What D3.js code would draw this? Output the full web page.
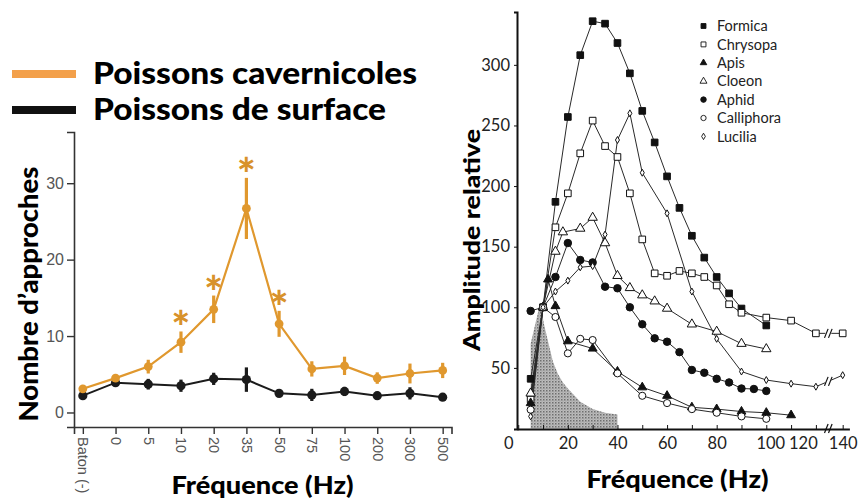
<!DOCTYPE html>
<html><head><meta charset="utf-8">
<script src="https://cdn.jsdelivr.net/npm/d3@7"></script>
<style>body{margin:0;background:#fff}svg{display:block}</style>
</head><body>
<svg id="c" width="863" height="501"></svg>
<script>
// ---------- Left chart data ----------
const leftCats = ["Baton (-)","0","5","10","20","35","50","75","100","200","300","500"];
const caveMean = [3.1,4.5,6.0,9.2,13.5,26.7,11.6,5.7,6.1,4.5,5.1,5.5];
const caveErr  = [0.5,0.4,0.9,1.4,1.8,4.0,1.7,1.0,1.2,0.75,1.3,1.0];
const surfMean = [2.2,3.9,3.7,3.5,4.4,4.3,2.5,2.3,2.75,2.2,2.5,2.0];
const surfErr  = [0.4,0.4,0.7,0.8,0.8,1.6,0.3,0.8,0.6,0.5,0.8,0.5];
const signifCats = ["10","20","35","50"];
const leftYTicks = [0,10,20,30];
const legendLeft = ["Poissons cavernicoles","Poissons de surface"];

// ---------- Right chart data ----------
const formicaF = [5,10,15,20,25,30,35,40,45,50,55,60,65,70,75,80,85,90,100];
const formicaA = [41,100,187,257,308,336,334,318,293,262,236,208,182,159,141,125,111.5,99,85];
const chrysopaF = [5,10,15,20,25,30,35,40,45,50,55,60,65,70,75,80,85,90,100,110,120,140];
const chrysopaA = [24,100,166,194,227,254,233,224,194,156,128,126,130,128,125,118,102.5,95.5,91.5,89,78.5,78.5];
const apisF = [5,10,12,15,20,30,40,50,60,70,80,90,100,110];
const apisA = [21,100,123,101,72,66,47,34,27,17.5,16,14,13,11];
const cloeonF = [5,10,15,18,25,30,35,40,45,50,55,60,70,80,90,100];
const cloeonA = [29,100,146,162,165,174,153,126,116,110,105,99,86,80,70,65.6];
const aphidF = [5,10,15,20,25,30,35,40,45,50,55,60,65,70,75,80,85,90,95,100];
const aphidA = [97,100,125,153,139,137,117,115.7,100,86,74.4,71.6,63,48.3,46,41,38,33,32.6,31];
const callF = [5,10,15,20,25,30,40,50,60,70,80,90,100];
const callA = [15.5,100,92,62,74,73,45.5,27,21,16,13,10,8];
const luciliaF = [5,10,15,20,25,30,35,40,45,50,60,70,80,90,100,110,120,140];
const luciliaA = [10,100,113,122,133,134,160,238,260,211,177.5,113,74,47,40,37,34.5,44];
const grayF = [5,5,8.8,10.5,12,14,16,18,20,25,30,35,40,40];
const grayA = [0,70,103,85,72,55,45,38,33,22,16,13,11.5,0];
const rightXTicks = [0,20,40,60,80,100,120,140];
const rightXMinor = [10,30,50,70,90,110];
const rightYTicks = [50,100,150,200,250,300];
const seriesNames = ["Formica","Chrysopa","Apis","Cloeon","Aphid","Calliphora","Lucilia"];

const svg = d3.select("#c");
svg.append("rect").attr("width",863).attr("height",501).attr("fill","#fff");

// ================= LEFT CHART =================
const ORANGE = "#E0982E", ORANGE_LEG = "#F3A04A", BLACK = "#1b1b1b";
const xL = d3.scalePoint().domain(leftCats).range([74, 451.5]).padding(0.27);
const yL = d3.scaleLinear().domain([-1.9, 36.7]).range([427, 132]);

const gL = svg.append("g");
const yAx = gL.append("g").attr("transform","translate(74,0)")
  .call(d3.axisLeft(yL).tickValues(leftYTicks).tickSizeOuter(0).tickSize(7).tickPadding(3));
yAx.select(".domain").attr("stroke","#333").attr("stroke-width",1.6);
yAx.selectAll(".tick line").attr("stroke","#333").attr("stroke-width",1.4);
yAx.selectAll(".tick text").attr("font-family","Liberation Sans, Arial, sans-serif")
  .attr("font-size",16).attr("fill","#555");
const xAx = gL.append("g").attr("transform","translate(0,427)")
  .call(d3.axisBottom(xL).tickSizeOuter(0).tickSize(7));
xAx.select(".domain").attr("stroke","#333").attr("stroke-width",1.6);
xAx.selectAll(".tick line").attr("stroke","#333").attr("stroke-width",1.4);
xAx.selectAll(".tick text")
  .attr("font-family","Liberation Sans, Arial, sans-serif").attr("font-size",14.5).attr("fill","#555")
  .attr("transform","rotate(90)").attr("text-anchor","start")
  .attr("x",10).attr("y",0).attr("dy","0.35em");

function drawSeries(mean, err, color, lw, r) {
  const pts = leftCats.map((c,i)=>({c, m:mean[i], e:err[i]}));
  gL.append("path").datum(pts)
    .attr("fill","none").attr("stroke",color).attr("stroke-width",lw)
    .attr("d", d3.line().x(d=>xL(d.c)).y(d=>yL(d.m)));
  gL.append("g").selectAll("line").data(pts).join("line")
    .attr("x1",d=>xL(d.c)).attr("x2",d=>xL(d.c))
    .attr("y1",d=>yL(d.m-d.e)).attr("y2",d=>yL(d.m+d.e))
    .attr("stroke",color).attr("stroke-width",3.2);
  gL.append("g").selectAll("circle").data(pts).join("circle")
    .attr("cx",d=>xL(d.c)).attr("cy",d=>yL(d.m)).attr("r",r).attr("fill",color);
}
drawSeries(surfMean, surfErr, BLACK, 2, 4.6);
drawSeries(caveMean, caveErr, ORANGE, 2.2, 4.4);

// significance stars
gL.append("g").selectAll("text").data(signifCats).join("text")
  .attr("x", c=>xL(c))
  .attr("y", c=>{const i=leftCats.indexOf(c); return yL(caveMean[i]+caveErr[i]) + 12;})
  .attr("text-anchor","middle")
  .attr("font-family","Lato, sans-serif").attr("font-weight",900).attr("font-size",44)
  .attr("fill","#D8922B").text("*");

// legend left
const legColors = [ORANGE_LEG, "#111"];
const legY = [74, 110];
legendLeft.forEach((t,i)=>{
  svg.append("line").attr("x1",12).attr("x2",76).attr("y1",legY[i]).attr("y2",legY[i])
    .attr("stroke",legColors[i]).attr("stroke-width",8);
  svg.append("text").attr("x",93).attr("y",legY[i]+9.7)
    .attr("font-family","Lato, sans-serif").attr("font-weight",900).attr("font-size",30)
    .attr("fill","#000").attr("textLength", i===0?324:293).attr("lengthAdjust","spacingAndGlyphs")
    .text(t);
});
svg.append("text").attr("transform","translate(38,294) rotate(-90)")
  .attr("text-anchor","middle").attr("font-family","Lato, sans-serif").attr("font-weight",900)
  .attr("font-size",27).attr("textLength",255).attr("lengthAdjust","spacingAndGlyphs")
  .text("Nombre d\u2019approches");
svg.append("text").attr("x",262.5).attr("y",494).attr("text-anchor","middle")
  .attr("font-family","Lato, sans-serif").attr("font-weight",900).attr("font-size",25)
  .attr("textLength",182).attr("lengthAdjust","spacingAndGlyphs").text("Fréquence (Hz)");

// ================= RIGHT CHART =================
const xR = d3.scaleLinear().domain([-0.5,125,147]).range([517,828.3,849.4]);
const yR = d3.scaleLinear().domain([-0.4,343.6]).range([429,12]);
const gR = svg.append("g");

const defs = svg.append("defs");
const pat = defs.append("pattern").attr("id","stip").attr("width",3).attr("height",3)
  .attr("patternUnits","userSpaceOnUse");
pat.append("rect").attr("width",3).attr("height",3).attr("fill","#bcbcbc");
pat.append("rect").attr("width",1.5).attr("height",1.5).attr("fill","#6e6e6e");
pat.append("rect").attr("x",1.5).attr("y",1.5).attr("width",1).attr("height",1).attr("fill","#929292");

gR.append("path").datum(grayF.map((f,i)=>[f,grayA[i]]))
  .attr("fill","url(#stip)")
  .attr("d", d3.line().x(d=>xR(d[0])).y(d=>yR(d[1])));

const yRAx = gR.append("g").attr("transform","translate(517,0)")
  .call(d3.axisLeft(yR).tickValues(rightYTicks).tickSizeOuter(0).tickSize(3).tickPadding(4));
yRAx.select(".domain").attr("stroke","#111").attr("stroke-width",2);
yRAx.selectAll(".tick line").attr("stroke","#111");
yRAx.selectAll(".tick text").attr("font-family","Lato, sans-serif").attr("font-size",16.5).attr("fill","#222");

const labelShift = {0:-10, 100:4, 120:-13};
const xRAx = gR.append("g").attr("transform","translate(0,429)")
  .call(d3.axisBottom(xR).tickValues(rightXTicks).tickSizeOuter(0).tickSizeInner(-4).tickPadding(8)
        .tickFormat(d3.format("d")));
xRAx.select(".domain").attr("stroke","#111").attr("stroke-width",2);
xRAx.selectAll(".tick line").attr("stroke","#111");
xRAx.selectAll(".tick text").attr("font-family","Lato, sans-serif").attr("font-size",16.5).attr("fill","#222")
  .attr("dx", d=> labelShift[d] || 0);
gR.append("g").attr("transform","translate(0,429)")
  .call(d3.axisBottom(xR).tickValues(rightXMinor).tickSizeOuter(0).tickSizeInner(-4).tickFormat(""))
  .call(g=>g.select(".domain").remove())
  .selectAll(".tick line").attr("stroke","#111");

function breakMark(x, y) {
  [-2, 2].forEach(o=>{
    gR.append("line").attr("x1",x+o-1.8).attr("y1",y+4.5).attr("x2",x+o+1.8).attr("y2",y-4.5)
      .attr("stroke","#111").attr("stroke-width",1.2);
  });
}
breakMark(xR(125), yR(0));

const series = [
  {n:"Formica", f:formicaF, a:formicaA, type:d3.symbolSquare, size:44, fill:"#111"},
  {n:"Chrysopa", f:chrysopaF, a:chrysopaA, type:d3.symbolSquare, size:44, fill:"#fff"},
  {n:"Apis", f:apisF, a:apisA, type:d3.symbolTriangle, size:34, fill:"#111"},
  {n:"Cloeon", f:cloeonF, a:cloeonA, type:d3.symbolTriangle, size:38, fill:"#fff"},
  {n:"Aphid", f:aphidF, a:aphidA, type:d3.symbolCircle, size:44, fill:"#111"},
  {n:"Calliphora", f:callF, a:callA, type:d3.symbolCircle, size:40, fill:"#fff"},
  {n:"Lucilia", f:luciliaF, a:luciliaA, type:d3.symbolDiamond, size:14, fill:"#fff"}
];
const lineR = d3.line().x(d=>xR(d[0])).y(d=>yR(d[1]));
series.forEach(s=>{
  const pts = s.f.map((f,i)=>[f,s.a[i]]);
  gR.append("path").datum(pts).attr("fill","none").attr("stroke","#2a2a2a").attr("stroke-width",1)
    .attr("d", lineR);
});
series.forEach(s=>{
  const i = s.f.indexOf(140);
  if (i>0) {
    const a = s.a[i-1] + (s.a[i]-s.a[i-1])*(xR(125)-xR(s.f[i-1]))/(xR(s.f[i])-xR(s.f[i-1]));
    gR.append("rect").attr("x",xR(125)-3).attr("y",yR(a)-3).attr("width",6).attr("height",6).attr("fill","#fff");
    breakMark(xR(125), yR(a));
  }
});
series.forEach(s=>{
  const pts = s.f.map((f,i)=>[f,s.a[i]]);
  gR.append("g").selectAll("path").data(pts).join("path")
    .attr("transform",d=>`translate(${xR(d[0])},${yR(d[1])})`)
    .attr("d", d3.symbol().type(s.type).size(s.size))
    .attr("fill", s.fill).attr("stroke","#111").attr("stroke-width",1);
});

const legR = gR.append("g");
series.forEach((s,i)=>{
  const y = 26 + i*18.4;
  const legSize = s.type===d3.symbolDiamond ? 12 : s.size*0.55;
  legR.append("path").attr("transform",`translate(703.5,${y})`)
    .attr("d", d3.symbol().type(s.type).size(legSize))
    .attr("fill", s.fill).attr("stroke","#111").attr("stroke-width",0.9);
  legR.append("text").attr("x",717).attr("y",y).attr("dy","0.36em")
    .attr("font-family","Lato, sans-serif").attr("font-size",14.5).attr("fill","#222").text(seriesNames[i]);
});

svg.append("text").attr("transform","translate(480,240) rotate(-90)")
  .attr("text-anchor","middle").attr("font-family","Lato, sans-serif").attr("font-weight",900)
  .attr("font-size",22).attr("textLength",222).attr("lengthAdjust","spacingAndGlyphs")
  .text("Amplitude relative");
svg.append("text").attr("x",677.5).attr("y",488).attr("text-anchor","middle")
  .attr("font-family","Lato, sans-serif").attr("font-weight",900).attr("font-size",24)
  .attr("textLength",182).attr("lengthAdjust","spacingAndGlyphs").text("Fréquence (Hz)");
</script>
</body></html>
